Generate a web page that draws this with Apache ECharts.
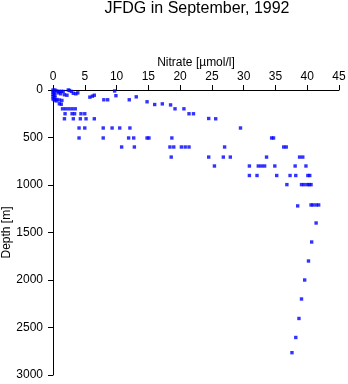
<!DOCTYPE html>
<html>
<head>
<meta charset="utf-8">
<script src="https://cdn.jsdelivr.net/npm/echarts@6/dist/echarts.min.js"></script>
<style>
  html, body { margin: 0; padding: 0; background: #fff; }
  #chart { width: 348px; height: 384px; }
</style>
</head>
<body>
<div id="chart"></div>
<script>
// Nitrate profile samples: nitrate concentration (µmol/l) and sample depth (m)
const nitrate = [
  0.0, 0.3, 0.6, 1.0, 1.3, 1.6, 0.0, 0.2, 0.0, 0.3, 0.0, 0.3, 0.0, 0.2, 0.6, 1.0, 1.4, 0.5,
  0.8, 1.2, 1.8, 2.2, 2.4, 2.6, 2.9, 3.2, 3.6, 3.9, 1.0, 1.3,
  5.8, 6.2, 6.5, 9.7, 9.9, 8.0, 8.6, 12.0, 13.1, 14.8,
  16.0, 17.2, 18.5,
  1.5, 2.0, 2.5, 3.0, 3.5, 19.2, 20.6,
  1.9, 3.0, 3.4, 4.4, 5.0, 21.4, 22.1,
  1.8, 3.2, 4.3, 5.2, 6.5, 24.5, 25.6,
  4.1, 5.0, 7.9, 9.3, 10.5, 12.1, 29.5,
  4.1, 7.9, 11.9, 12.7, 14.8, 15.1, 18.7, 34.4, 34.7,
  10.8, 12.8, 18.4, 19.0, 20.2, 20.8, 21.4, 27.0, 36.3, 36.7,
  18.6, 24.5, 26.8, 27.9, 33.6, 38.8, 39.3,
  25.4, 30.9, 32.3, 32.8, 33.3, 34.9, 38.1, 39.8,
  30.9, 32.1, 35.2, 37.3, 38.2, 40.1, 40.4,
  36.8, 39.1, 39.5, 40.0, 40.3, 40.6,
  38.5, 40.6, 40.9, 41.4, 41.8,
  41.4, 40.7, 40.2, 39.6, 39.1, 38.7, 38.2, 37.6
];
const depth = [
  0, 0, 10, 15, 15, 15, 20, 30, 45, 55, 70, 80, 95, 105, 100, 105, 110, 115,
  30, 40, 50, 55, 0, 5, 15, 35, 40, 30, 145, 150,
  75, 65, 55, 10, 60, 103, 103, 103, 72, 124,
  153, 146, 157,
  198, 198, 198, 198, 198, 198, 198,
  250, 250, 250, 250, 250, 250, 250,
  303, 303, 303, 303, 303, 300, 303,
  400, 400, 400, 400, 400, 400, 400,
  505, 505, 505, 505, 505, 505, 505, 505, 505,
  600, 600, 600, 600, 600, 600, 600, 600, 600, 600,
  706, 706, 706, 706, 706, 706, 706,
  800, 800, 800, 800, 800, 800, 800, 800,
  900, 900, 900, 900, 900, 900, 900,
  996, 996, 996, 996, 996, 996,
  1220, 1210, 1210, 1210, 1210,
  1400, 1600, 1800, 2000, 2200, 2405, 2605, 2765
];
const xTicks = { min: 0, max: 45, step: 5 };
const yTicks = { min: 0, max: 3000, step: 500 };

const points = nitrate.map((n, i) => [n, depth[i]]);

const font = "'Liberation Sans', Arial, Helvetica, sans-serif";
const chart = echarts.init(document.getElementById('chart'), null, { renderer: 'canvas' });

chart.setOption({
  backgroundColor: '#ffffff',
  animation: false,
  title: {
    text: 'JFDG in September, 1992',
    left: 197,
    top: 1,
    padding: 0,
    textAlign: 'center',
    textStyle: { fontFamily: font, fontSize: 16, fontWeight: 'normal', color: '#000' }
  },
  grid: { left: 53, right: 9, top: 90, bottom: 9, containLabel: false, outerBoundsMode: 'none' },
  xAxis: {
    type: 'value',
    position: 'top',
    min: xTicks.min, max: xTicks.max, interval: xTicks.step,
    name: 'Nitrate [µmol/l]',
    nameLocation: 'middle',
    nameGap: 21,
    nameMoveOverlap: false,
    nameTextStyle: { fontFamily: font, fontSize: 12, color: '#000' },
    axisLine: { lineStyle: { color: '#000', width: 1 } },
    axisTick: { show: true, inside: false, length: 5, lineStyle: { color: '#000' } },
    axisLabel: { fontFamily: font, fontSize: 12, color: '#000', margin: 7 },
    splitLine: { show: false }
  },
  yAxis: {
    type: 'value',
    inverse: true,
    min: yTicks.min, max: yTicks.max, interval: yTicks.step,
    name: 'Depth [m]',
    nameLocation: 'middle',
    nameGap: 40,
    nameMoveOverlap: false,
    nameTextStyle: { fontFamily: font, fontSize: 12, color: '#000' },
    axisLine: { show: true, lineStyle: { color: '#000', width: 1 } },
    axisTick: { show: true, inside: false, length: 5, lineStyle: { color: '#000' } },
    axisLabel: { fontFamily: font, fontSize: 12, color: '#000', margin: 10, formatter: v => String(v) },
    splitLine: { show: false }
  },
  series: [{
    type: 'scatter',
    data: points,
    symbol: 'rect',
    symbolSize: 3.4,
    itemStyle: { color: '#0000ff' }
  }]
});
</script>
</body>
</html>
